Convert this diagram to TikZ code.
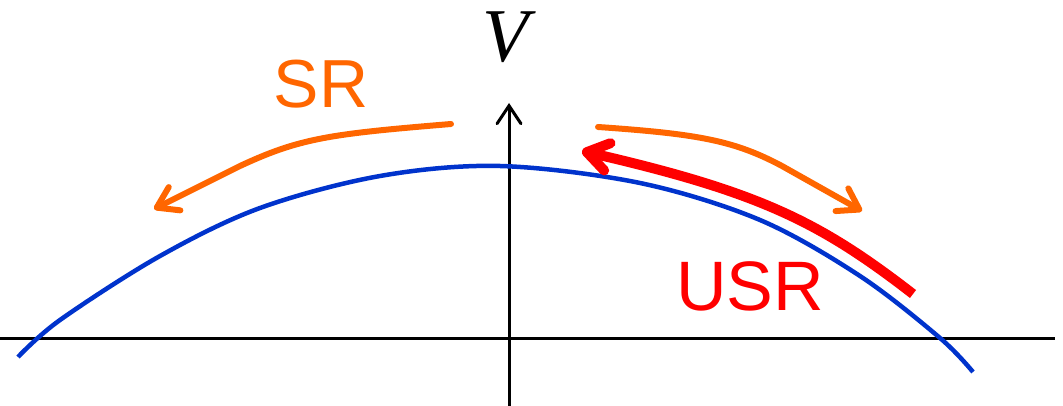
\documentclass[tikz,border=0pt]{standalone}
\usepackage{fontspec}
\setmainfont{Liberation Sans}
\newfontfamily\timesfont{Liberation Serif}
\usetikzlibrary{arrows.meta}
\definecolor{curveblue}{RGB}{0,51,204}
\definecolor{srorange}{RGB}{255,102,0}
\definecolor{usrred}{RGB}{255,0,0}
\tikzset{
  axisline/.style={line width=3pt, black},
  potential/.style={line width=4.5pt, curveblue},
  srarrow/.style={line width=6pt, srorange, line cap=round, line join=round,
    -{Straight Barb[length=20pt, width=26pt, line cap=round, line join=round]}},
  usrarrow/.style={line width=10pt, usrred, line join=round,
    -{Straight Barb[length=21pt, width=28pt, line cap=round, line join=round]}},
  label/.style={inner sep=0pt, anchor=base, font=\fontsize{68}{70}\selectfont},
}
\begin{document}
\begin{tikzpicture}[x=1pt, y=-1pt]
\useasboundingbox (0,0) rectangle (1063,406);
% axes
\coordinate (xl) at (0,338);
\coordinate (xr) at (1055,338);
\coordinate (yb) at (509,406);
\coordinate (yt) at (509,103);
\draw[axisline] (xl) -- (xr);
\draw[axisline, -{Straight Barb[length=18pt, width=24pt, line cap=round]}] (yb) -- (yt);
\node[inner sep=0pt, anchor=base] (V) at (506,62) {\fontsize{76}{78}\selectfont\timesfont\itshape V};
% potential curve
\draw[potential] plot[smooth, tension=0.55] coordinates
  {(18,357) (60,320) (160,256) (260,208) (380,176) (500,166) (640,183) (760,220) (860,276) (940,338) (973,372)};
% SR arrows
\coordinate (sl0) at (451,124);
\coordinate (sl1) at (240,166);
\coordinate (sl2) at (154,209);
\draw[srarrow] (sl0) .. controls (330,134) and (300,138) .. (sl1) -- (sl2);
\coordinate (sr0) at (598,127);
\coordinate (sr1) at (782,166);
\coordinate (sr2) at (862,211);
\draw[srarrow] (sr0) .. controls (700,134) and (735,141) .. (sr1) -- (sr2);
% USR arrow
\coordinate (u0) at (913,294);
\coordinate (u1) at (582,151);
\draw[usrarrow] (u0) .. controls (820,222) and (760,192) .. (u1);
% labels
\node[label, text=srorange] (SR) at (321,108) {SR};
\node[label, text=usrred, font=\fontsize{70}{72}\selectfont] (USR) at (750,310) {USR};
\end{tikzpicture}
\end{document}
